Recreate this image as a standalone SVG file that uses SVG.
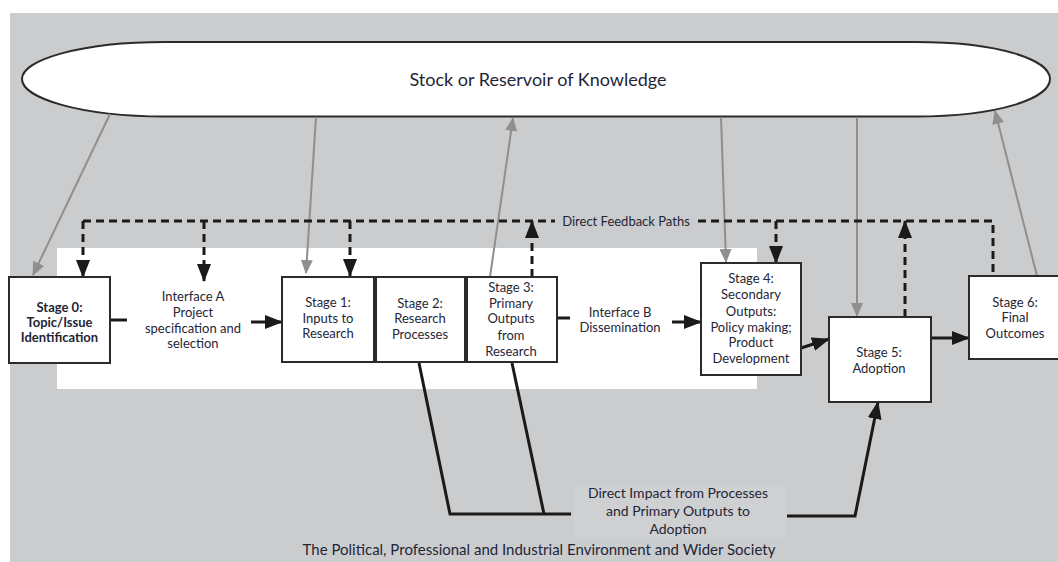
<svg xmlns="http://www.w3.org/2000/svg" width="1058" height="562" viewBox="0 0 1058 562">
<style>
.t{font-family:"Lato","Liberation Sans",sans-serif;font-size:13px;fill:#1f2636;text-anchor:middle}
.b{font-weight:bold}
.box{fill:#fff;stroke:#2b2b2b;stroke-width:2}
.g{stroke:#8f8f8f;stroke-width:2;fill:none}
.k{stroke:#1a1a1a;stroke-width:3;fill:none}
.d{stroke:#1a1a1a;stroke-width:3;fill:none;stroke-dasharray:8 5}
</style>
<defs>
<marker id="ak" markerUnits="userSpaceOnUse" markerWidth="18" markerHeight="14" refX="17" refY="7" orient="auto"><path d="M0,0 L18,7 L0,14 Z" fill="#1a1a1a"/></marker>
<marker id="ag" markerUnits="userSpaceOnUse" markerWidth="14" markerHeight="12" refX="13" refY="6" orient="auto"><path d="M0,0 L14,6 L0,12 Z" fill="#8f8f8f"/></marker>
</defs>
<rect x="0" y="0" width="1058" height="562" fill="#fff"/>
<rect x="10" y="13" width="1048" height="549" fill="#cbccce"/>
<rect x="57" y="248" width="700" height="141" fill="#fff"/>
<rect x="573" y="485" width="214" height="54" fill="#cfd0d2"/>

<g id="reservoir">
<path d="M165,42 H915 C1000,42 1050,60 1050,79 C1050,98 1000,116.5 915,116.5 H165 C80,116.5 22,98 22,79 C22,60 80,42 165,42 Z" fill="#fff" stroke="#2b2b2b" stroke-width="2"/>
<text class="t" x="538" y="86" style="font-size:18px">Stock or Reservoir of Knowledge</text>
</g>

<g id="connectors">
<line class="g" x1="110" y1="114" x2="33" y2="275" marker-end="url(#ag)"/>
<line class="g" x1="316" y1="117" x2="306" y2="273" marker-end="url(#ag)"/>
<line class="g" x1="490" y1="277" x2="513" y2="118" marker-end="url(#ag)"/>
<line class="g" x1="721" y1="117" x2="726" y2="262" marker-end="url(#ag)"/>
<line class="g" x1="857" y1="117" x2="857" y2="316" marker-end="url(#ag)"/>
<line class="g" x1="1037" y1="276" x2="995" y2="111" marker-end="url(#ag)"/>
<path class="d" d="M83,221 H555"/>
<path class="d" d="M698,221 H993 V276"/>
<line class="d" x1="83" y1="221" x2="83" y2="277" marker-end="url(#ak)"/>
<line class="d" x1="204" y1="221" x2="204" y2="281" marker-end="url(#ak)"/>
<line class="d" x1="350" y1="221" x2="350" y2="276" marker-end="url(#ak)"/>
<line class="d" x1="776" y1="221" x2="776" y2="263" marker-end="url(#ak)"/>
<line class="d" x1="532" y1="277" x2="532" y2="221" marker-end="url(#ak)"/>
<line class="d" x1="905" y1="317" x2="905" y2="221" marker-end="url(#ak)"/>
<text class="t" x="626" y="226">Direct Feedback Paths</text>
<line class="k" x1="110" y1="320" x2="127" y2="320"/>
<line class="k" x1="251" y1="322" x2="282" y2="322" marker-end="url(#ak)"/>
<line class="k" x1="557" y1="318" x2="570" y2="318"/>
<line class="k" x1="672" y1="322" x2="701" y2="322" marker-end="url(#ak)"/>
<line class="k" x1="801" y1="348" x2="829" y2="339" marker-end="url(#ak)"/>
<line class="k" x1="931" y1="338" x2="969" y2="338" marker-end="url(#ak)"/>
<polyline class="k" points="419,363 450,514 571,514"/>
<line class="k" x1="512" y1="363" x2="544" y2="514"/>
<polyline class="k" points="787,516 855,516 878,402" marker-end="url(#ak)"/>
<text class="t" x="678" y="498" style="font-size:14px">Direct Impact from Processes</text>
<text class="t" x="678" y="516" style="font-size:14px">and Primary Outputs to</text>
<text class="t" x="678" y="534" style="font-size:14px">Adoption</text>
</g>

<g id="stage0">
<rect class="box" x="9" y="277" width="101" height="86"/>
<text class="t b" x="59.5" y="312">Stage 0:</text>
<text class="t b" x="59.5" y="327">Topic/Issue</text>
<text class="t b" x="59.5" y="342">Identification</text>
</g>
<g id="interfaceA">
<text class="t" x="193" y="301">Interface A</text>
<text class="t" x="193" y="317">Project</text>
<text class="t" x="193" y="333">specification and</text>
<text class="t" x="193" y="348">selection</text>
</g>
<g id="stage1">
<rect class="box" x="282" y="277" width="92" height="85"/>
<text class="t" x="328" y="307">Stage 1:</text>
<text class="t" x="328" y="323">Inputs to</text>
<text class="t" x="328" y="338">Research</text>
</g>
<g id="stage2">
<rect class="box" x="376" y="277" width="89" height="85"/>
<text class="t" x="420" y="308">Stage 2:</text>
<text class="t" x="420" y="323">Research</text>
<text class="t" x="420" y="339">Processes</text>
</g>
<g id="stage3">
<rect class="box" x="467" y="277" width="90" height="85"/>
<text class="t" x="511" y="292">Stage 3:</text>
<text class="t" x="511" y="308">Primary</text>
<text class="t" x="511" y="323">Outputs</text>
<text class="t" x="511" y="340">from</text>
<text class="t" x="511" y="356">Research</text>
</g>
<g id="interfaceB">
<text class="t" x="620" y="317">Interface B</text>
<text class="t" x="620" y="332">Dissemination</text>
</g>
<g id="stage4">
<rect class="box" x="701" y="263" width="100" height="112"/>
<text class="t" x="751" y="283">Stage 4:</text>
<text class="t" x="751" y="299">Secondary</text>
<text class="t" x="751" y="316">Outputs:</text>
<text class="t" x="751" y="332">Policy making;</text>
<text class="t" x="751" y="347">Product</text>
<text class="t" x="751" y="363">Development</text>
</g>
<g id="stage5">
<rect class="box" x="829" y="317" width="102" height="85"/>
<text class="t" x="879" y="357">Stage 5:</text>
<text class="t" x="879" y="373">Adoption</text>
</g>
<g id="stage6">
<rect class="box" x="969" y="276" width="93" height="83"/>
<text class="t" x="1015" y="307">Stage 6:</text>
<text class="t" x="1015" y="322">Final</text>
<text class="t" x="1015" y="338">Outcomes</text>
</g>
<text class="t" x="539" y="555" style="font-size:15px">The Political, Professional and Industrial Environment and Wider Society</text>
</svg>
